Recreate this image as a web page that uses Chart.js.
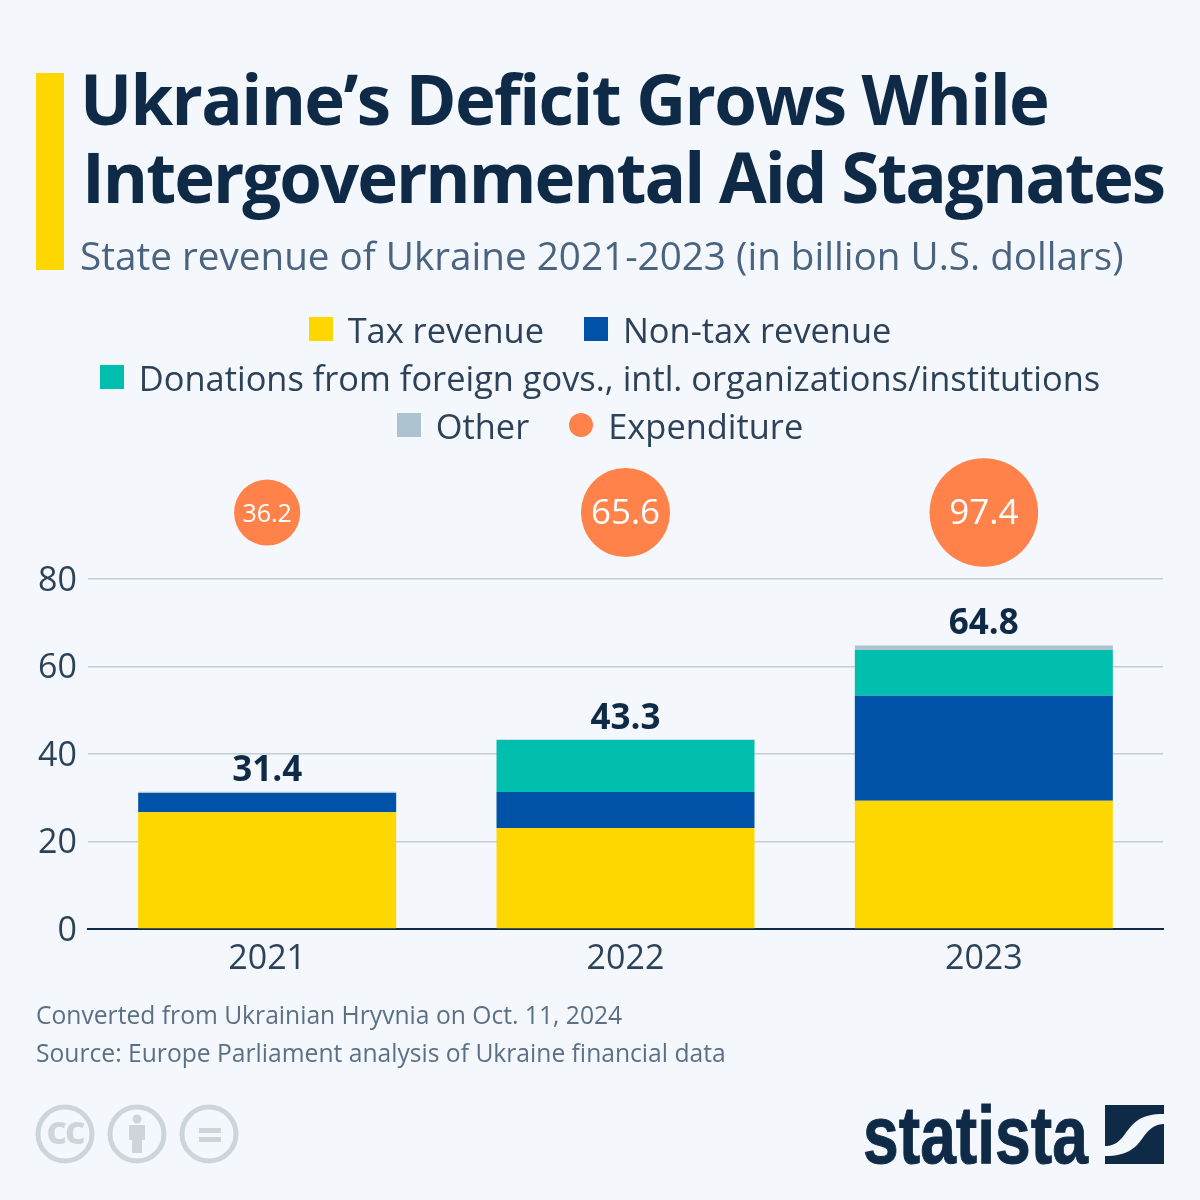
<!DOCTYPE html>
<html>
<head>
<meta charset="utf-8">
<title>Ukraine's Deficit</title>
<script src="https://cdn.jsdelivr.net/npm/chart.js@4"></script>
<style>
  html, body { margin: 0; padding: 0; background: #f4f8fd; }
  #page { position: relative; width: 1200px; height: 1200px; overflow: hidden; font-family: "Open Sans", sans-serif; background: #f4f8fd; }
  #page div { position: absolute; white-space: nowrap; }
  #grafico { position: absolute; left: 0; top: 0; }
  .titulo { font-size: 69px; font-weight: 700; line-height: 78px; color: #0f2a47; }
  .barra { left: 36px; top: 73px; width: 28px; height: 197px; background: #ffd700; }
  .sub { left: 80px; top: 231px; font-size: 38.65px; line-height: 48px; color: #4a6480; }
  .linha-legenda { left: 0; width: 1200px; height: 48px; display: flex; justify-content: center; align-items: center; font-size: 34.4px; color: #2d4259; }
  .item { display: flex; align-items: center; margin: 0 20px; }
  .marca { display: inline-block; width: 24px; height: 24px; margin-right: 15px; }
  .nota { left: 36px; font-size: 24.65px; line-height: 34px; color: #5b6f85; }
  svg { position: absolute; }
</style>
</head>
<body>
<div id="page">
  <canvas id="grafico" width="1200" height="1200"></canvas>
  <div class="barra"></div>
  <div class="titulo" style="top:59px;left:80px;letter-spacing:-1.67px">Ukraine’s Deficit Grows While</div>
  <div class="titulo" style="top:137px;left:82px;letter-spacing:-2px">Intergovernmental Aid Stagnates</div>
  <div class="sub">State revenue of Ukraine 2021-2023 (in billion U.S. dollars)</div>
  <div id="legenda"></div>
  <div class="nota" style="top:998px">Converted from Ukrainian Hryvnia on Oct. 11, 2024</div>
  <div class="nota" style="top:1036px">Source: Europe Parliament analysis of Ukraine financial data</div>

  <svg style="left:30px;top:1100px" width="216" height="70" viewBox="0 0 216 70">
    <g fill="none" stroke="#cdd4da" stroke-width="5">
      <circle cx="35" cy="34" r="27"/>
      <circle cx="107" cy="34" r="27"/>
      <circle cx="179" cy="34" r="27"/>
    </g>
    <text x="35" y="44" text-anchor="middle" font-family="Open Sans" font-weight="700" font-size="40" letter-spacing="-2" fill="#cdd4da">cc</text>
    <g fill="#cdd4da">
      <circle cx="107" cy="19" r="4.5"/>
      <rect x="99" y="25" width="16" height="15"/>
      <rect x="102" y="40" width="10" height="13"/>
      <rect x="169" y="28" width="22" height="5"/>
      <rect x="169" y="37" width="22" height="5"/>
    </g>
  </svg>

  <svg style="left:860px;top:1100px" width="310" height="70" viewBox="0 0 310 70">
    <text x="3" y="63" font-family="Liberation Sans" font-weight="700" font-size="82" fill="#0f2a47" stroke="#0f2a47" stroke-width="1" textLength="225" lengthAdjust="spacingAndGlyphs">statista</text>
    <path fill="#0f2a47" d="M245 5 H304 V14 C280 14 274 22 265 34 C258 44 252 46 245 46 Z"/>
    <path fill="#0f2a47" d="M304 24 V64 H245 V56 C268 56 276 48 284 36 C290 28 296 24 304 24 Z"/>
  </svg>
</div>

<script>
// === Dados ===
const anos = ['2021', '2022', '2023'];
const impostos = [26.7, 23.1, 29.3];
const naoImpostos = [4.4, 8.2, 24.0];
const doacoes = [0, 11.9, 10.5];
const outros = [0.3, 0.1, 1.0];
const totais = [31.4, 43.3, 64.8];
const despesas = [36.2, 65.6, 97.4];
const yTicks = [0, 20, 40, 60, 80];

const nomes = ['Tax revenue', 'Non-tax revenue', 'Donations from foreign govs., intl. organizations/institutions', 'Other', 'Expenditure'];
const cores = ['#ffd700', '#0052a8', '#00bfae', '#adc3ce', '#ff824a'];
const linhasLegenda = [[0, 1], [2], [3, 4]];

const corEscura = '#0f2a47';
const linhaBolhas = 95.2; // faixa acima do eixo onde ficam as bolhas

// === Legenda ===
const legenda = document.getElementById('legenda');
linhasLegenda.forEach((linha, i) => {
  const div = document.createElement('div');
  div.className = 'linha-legenda';
  div.style.top = (305 + i * 48) + 'px';
  linha.forEach(idx => {
    const raio = idx === 4 ? '50%' : '0';
    div.innerHTML += `<span class="item"><span class="marca" style="background:${cores[idx]};border-radius:${raio}"></span>${nomes[idx]}</span>`;
  });
  legenda.appendChild(div);
});

// === Rótulos dos totais e das bolhas ===
const rotulos = {
  id: 'rotulos',
  afterDatasetsDraw(chart) {
    const { ctx, scales: { x, y } } = chart;
    ctx.save();
    ctx.textAlign = 'center';
    ctx.textBaseline = 'middle';
    anos.forEach((ano, i) => {
      ctx.fillStyle = corEscura;
      ctx.font = '700 35px "Open Sans"';
      ctx.fillText(totais[i].toFixed(1), x.getPixelForValue(i), y.getPixelForValue(totais[i]) - 21);
      ctx.fillStyle = '#ffffff';
      ctx.font = (despesas[i] < 50 ? '500 25px' : '500 35px') + ' "Open Sans"';
      ctx.fillText(despesas[i].toFixed(1), x.getPixelForValue(i), y.getPixelForValue(linhaBolhas) + 2);
    });
    ctx.restore();
  }
};

function serie(label, data, cor) {
  return { type: 'bar', label, data, backgroundColor: cor, borderWidth: 0, barPercentage: 0.72, categoryPercentage: 1 };
}

// a bolha grande reservava margem no layout e encolhia a área do gráfico
Chart.BubbleController.prototype.getMaxOverflow = () => 0;

// === Gráfico ===
new Chart(document.getElementById('grafico').getContext('2d'), {
  data: {
    labels: anos,
    datasets: [
      serie(nomes[0], impostos, cores[0]),
      serie(nomes[1], naoImpostos, cores[1]),
      serie(nomes[2], doacoes, cores[2]),
      serie(nomes[3], outros, cores[3]),
      {
        type: 'bubble',
        label: nomes[4],
        data: anos.map((ano, i) => ({ x: ano, y: linhaBolhas, r: 5.5 * Math.sqrt(despesas[i]) })),
        backgroundColor: cores[4],
        borderWidth: 0
      }
    ]
  },
  options: {
    responsive: false,
    animation: false,
    devicePixelRatio: 1,
    layout: { padding: { top: 456.5, right: 37, left: 0, bottom: 0 } },
    plugins: { legend: { display: false }, tooltip: { enabled: false } },
    scales: {
      x: {
        stacked: true,
        afterFit: s => { s.height = 271; s.paddingLeft = 0; s.paddingRight = 0; },
        grid: { display: false },
        border: { display: true, color: corEscura, width: 2 },
        ticks: { color: '#2d4259', font: { family: 'Open Sans', size: 34 }, padding: 2, maxRotation: 0 }
      },
      y: {
        stacked: true,
        min: 0,
        max: 108,
        afterFit: s => { s.width = 88; },
        afterBuildTicks: s => { s.ticks = yTicks.map(value => ({ value })); },
        grid: { color: '#c3ccd8', lineWidth: 1.5, drawTicks: false },
        border: { display: false },
        ticks: { color: '#2d4259', font: { family: 'Open Sans', size: 34 }, padding: 11, labelOffset: 2 }
      }
    }
  },
  plugins: [rotulos]
});
</script>
</body>
</html>
